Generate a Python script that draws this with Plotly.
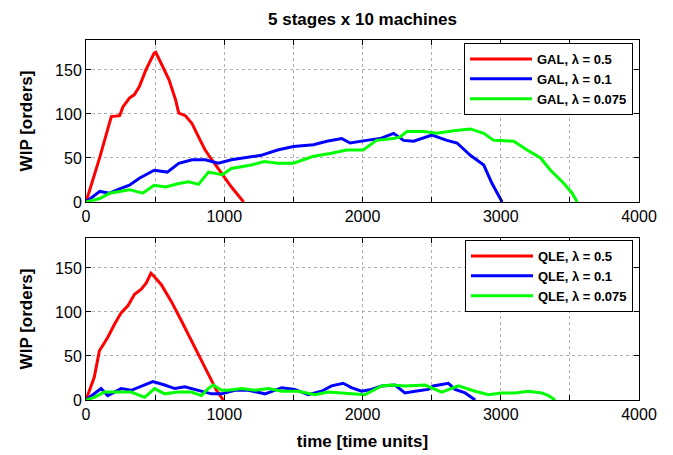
import plotly.graph_objects as go

# ---- data ----
gal05_t = [0, 100, 183, 243, 267, 314, 350, 386, 433, 493, 505, 552, 600, 648, 671, 719, 767, 814, 862, 910, 981, 1052, 1140]
gal05_v = [0, 51, 97, 98, 108, 118, 122, 131, 150, 169, 170, 154, 139, 116, 101, 98, 89, 74, 59, 48, 33, 17, 0]

gal01_t = [0, 100, 171, 243, 314, 386, 493, 588, 671, 767, 862, 957, 1052, 1148, 1267, 1386, 1500, 1645, 1742, 1850, 1911, 2029, 2128, 2225, 2297, 2370, 2502, 2611, 2684, 2780, 2877, 2937, 3010]
gal01_v = [0, 12, 10, 15, 19, 27, 36, 34, 44, 48, 48, 44, 48, 50, 53, 59, 63, 65, 69, 72, 67, 70, 72, 78, 70, 69, 76, 70, 67, 53, 42, 21, 0]

gal0075_t = [0, 100, 171, 314, 410, 493, 576, 671, 743, 814, 886, 986, 1052, 1195, 1290, 1386, 1500, 1645, 1766, 1886, 2005, 2101, 2225, 2273, 2321, 2442, 2539, 2659, 2780, 2877, 2949, 3094, 3191, 3288, 3360, 3457, 3517, 3553]
gal0075_v = [0, 4, 10, 14, 10, 19, 17, 21, 23, 20, 34, 31, 38, 42, 46, 44, 44, 52, 55, 59, 59, 70, 72, 74, 80, 80, 78, 81, 83, 78, 70, 69, 59, 50, 36, 21, 10, 0]

qle05_t = [0, 60, 97, 157, 206, 254, 303, 351, 400, 436, 470, 484, 545, 617, 690, 763, 835, 896, 944, 993]
qle05_v = [0, 26, 56, 71, 86, 99, 107, 120, 126, 133, 144, 142, 131, 112, 90, 67, 45, 26, 11, 0]

qle01_t = [0, 109, 157, 254, 327, 424, 484, 569, 642, 714, 811, 908, 981, 1077, 1174, 1295, 1416, 1510, 1607, 1704, 1776, 1860, 1920, 1993, 2065, 2138, 2235, 2307, 2380, 2476, 2512, 2621, 2670, 2742, 2815]
qle01_v = [0, 13, 5, 13, 11, 17, 21, 17, 13, 15, 11, 7, 7, 11, 11, 7, 14, 12, 6, 10, 16, 19, 14, 10, 12, 16, 17, 8, 10, 12, 16, 19, 12, 8, 0]

qle0075_t = [0, 60, 133, 206, 327, 424, 496, 569, 666, 763, 835, 884, 920, 981, 1029, 1126, 1223, 1320, 1416, 1535, 1656, 1752, 1872, 2017, 2138, 2210, 2307, 2452, 2573, 2694, 2815, 2911, 3007, 3104, 3200, 3297, 3345, 3393]
qle0075_v = [0, 3, 9, 9, 9, 3, 13, 7, 9, 9, 5, 13, 17, 11, 11, 13, 11, 13, 10, 10, 6, 9, 8, 6, 16, 17, 16, 17, 9, 16, 10, 6, 8, 8, 10, 8, 5, 0]

x_ticks = [0, 500, 1000, 1500, 2000, 2500, 3000, 3500, 4000]
x_ticklabels = ["0", "", "1000", "", "2000", "", "3000", "", "4000"]
y_ticks = [0, 50, 100, 150]

RED, BLUE, GREEN = "#ff0000", "#0000ff", "#00ff00"
FONT = "Liberation Sans, Arial, sans-serif"

fig = go.Figure()
series = [
    (gal05_t, gal05_v, "GAL, λ = 0.5", RED, "x", "y", "legend"),
    (gal01_t, gal01_v, "GAL, λ = 0.1", BLUE, "x", "y", "legend"),
    (gal0075_t, gal0075_v, "GAL, λ = 0.075", GREEN, "x", "y", "legend"),
    (qle05_t, qle05_v, "QLE, λ = 0.5", RED, "x2", "y2", "legend2"),
    (qle01_t, qle01_v, "QLE, λ = 0.1", BLUE, "x2", "y2", "legend2"),
    (qle0075_t, qle0075_v, "QLE, λ = 0.075", GREEN, "x2", "y2", "legend2"),
]
for t, v, name, col, xa, ya, lg in series:
    fig.add_trace(go.Scatter(x=t, y=v, mode="lines", name=name,
                             line=dict(color=col, width=3),
                             xaxis=xa, yaxis=ya, legend=lg))

W, H = 673, 455
xd = [86 / W, 639 / W]
axis_common = dict(showline=True, linecolor="black", linewidth=1, mirror="ticks",
                   ticks="inside", ticklen=5, tickcolor="black",
                   showgrid=True, gridcolor="#b0b0b0", griddash="dot", gridwidth=1,
                   zeroline=False, automargin=False,
                   tickfont=dict(family=FONT, size=16, color="black"))

ytitle = dict(text="<b>WIP [orders]</b>", font=dict(family=FONT, size=17), standoff=18)
legend_font = dict(family=FONT, size=13, color="black", weight="bold")

fig.update_layout(
    width=W, height=H,
    margin=dict(l=0, r=0, t=0, b=0),
    paper_bgcolor="white", plot_bgcolor="white",
    font=dict(family=FONT, color="black"),
    xaxis=dict(domain=xd, range=[0, 4000], tickvals=x_ticks, ticktext=x_ticklabels,
               anchor="y", **axis_common),
    yaxis=dict(domain=[1 - 202 / H, 1 - 40 / H], range=[0, 184], tickvals=y_ticks,
               anchor="x", title=ytitle, **axis_common),
    xaxis2=dict(domain=xd, range=[0, 4000], tickvals=x_ticks, ticktext=x_ticklabels,
                anchor="y2", title=dict(text="<b>time [time units]</b>",
                                        font=dict(family=FONT, size=17), standoff=12),
                **axis_common),
    yaxis2=dict(domain=[1 - 400 / H, 1 - 238 / H], range=[0, 184], tickvals=y_ticks,
                anchor="x2", title=ytitle, **axis_common),
    legend=dict(x=633 / W, y=1 - 43 / H, xanchor="right", yanchor="top",
                bgcolor="white", bordercolor="black", borderwidth=1,
                font=legend_font, itemwidth=62, tracegroupgap=0),
    legend2=dict(x=633 / W, y=1 - 240 / H, xanchor="right", yanchor="top",
                 bgcolor="white", bordercolor="black", borderwidth=1,
                 font=legend_font, itemwidth=62, tracegroupgap=0),
    annotations=[dict(text="<b>5 stages x 10 machines</b>", x=(xd[0] + xd[1]) / 2, y=1 - 20 / H,
                      xref="paper", yref="paper", xanchor="center", yanchor="middle",
                      showarrow=False, font=dict(family=FONT, size=17, color="black"))],
)

fig.write_html("out.html", config={"displayModeBar": False},
               post_script="document.body.style.margin='0';")
